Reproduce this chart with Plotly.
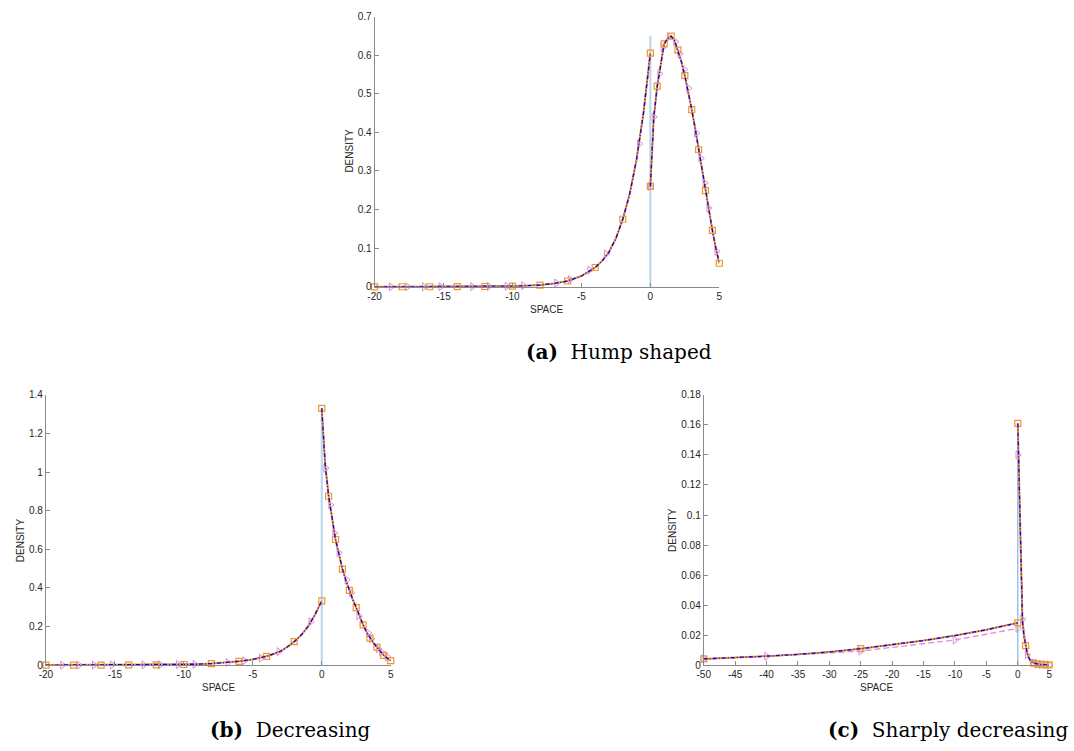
import plotly.graph_objects as go

W, H = 1074, 751

# ---------------- Panel (a): Hump shaped ----------------
a_left_x = [-20, -18, -16, -14, -12, -10, -9, -8, -7, -6, -5, -4, -3.5, -3, -2.5, -2, -1.5, -1, -0.5, 0]
a_left_y = [0.0000, 0.0001, 0.0002, 0.0004, 0.0008, 0.0018, 0.0028, 0.0045, 0.0085, 0.015, 0.028, 0.05,
            0.067, 0.09, 0.125, 0.175, 0.24, 0.33, 0.45, 0.605]
a_right_x = [0, 0.25, 0.5, 0.75, 1, 1.25, 1.5, 1.75, 2, 2.25, 2.5, 2.75, 3, 3.25, 3.5, 3.75, 4, 4.25, 4.5, 4.75, 5]
a_right_y = [0.26, 0.44, 0.52, 0.575, 0.629, 0.643, 0.649, 0.638, 0.613, 0.583, 0.547, 0.505, 0.459, 0.41,
             0.355, 0.303, 0.249, 0.196, 0.146, 0.1, 0.061]
a_orange_x = [-20, -18, -16, -14, -12, -10, -8, -6, -4, -2, 0, 0, 0.5, 1, 1.5, 2, 2.5, 3, 3.5, 4, 4.5, 5]
a_orange_y = [0.0, 0.0001, 0.0002, 0.0004, 0.0008, 0.0018, 0.0045, 0.015, 0.05, 0.175, 0.605,
              0.26, 0.52, 0.629, 0.649, 0.613, 0.547, 0.459, 0.355, 0.249, 0.146, 0.061]
a_pink_x = [-18.8, -17.6, -16.4, -15.2, -12.9, -11.7, -10.4, -9.2, -6.8, -5.8, -4.4, -3.2, -0.8,
            0.0, 0.26, 0.67, 0.91, 1.36, 1.82, 2.13, 2.46, 2.77, 3.33, 3.66, 3.95, 4.23, 4.81]
a_pink_y = [0.0001, 0.0001, 0.0002, 0.0003, 0.0006, 0.001, 0.0015, 0.003, 0.01, 0.019, 0.043, 0.085, 0.37,
            0.26, 0.44, 0.552, 0.62, 0.647, 0.635, 0.604, 0.563, 0.514, 0.398, 0.333, 0.269, 0.204, 0.092]
a_vline_top = 0.65
a_xticks = [-20, -15, -10, -5, 0, 5]
a_xtext = ["-20", "-15", "-10", "-5", "0", "5"]
a_yticks = [0, 0.1, 0.2, 0.3, 0.4, 0.5, 0.6, 0.7]
a_ytext = ["0", "0.1", "0.2", "0.3", "0.4", "0.5", "0.6", "0.7"]

# ---------------- Panel (b): Decreasing ----------------
b_left_x = [-20, -18, -16, -14, -12, -10, -9, -8, -7, -6, -5, -4, -3.5, -3, -2.5, -2, -1.5, -1, -0.5, 0]
b_left_y = [0.0003, 0.0005, 0.0008, 0.0012, 0.002, 0.0035, 0.005, 0.0085, 0.013, 0.02, 0.03, 0.046,
            0.058, 0.072, 0.094, 0.122, 0.155, 0.2, 0.26, 0.333]
b_right_x = [0, 0.1, 0.25, 0.5, 0.75, 1, 1.25, 1.5, 1.75, 2, 2.25, 2.5, 2.75, 3, 3.25, 3.5, 3.75, 4, 4.25,
             4.5, 4.75, 5]
b_right_y = [1.33, 1.2, 1.04, 0.875, 0.77, 0.65, 0.575, 0.498, 0.44, 0.388, 0.34, 0.298, 0.252, 0.209,
             0.172, 0.14, 0.115, 0.094, 0.072, 0.051, 0.036, 0.024]
b_orange_x = [-20, -18, -16, -14, -12, -10, -8, -6, -4, -2, 0, 0, 0.5, 1, 1.5, 2, 2.5, 3, 3.5, 4, 4.5, 5]
b_orange_y = [0.0003, 0.0005, 0.0008, 0.0012, 0.002, 0.0035, 0.0085, 0.02, 0.046, 0.122, 0.333,
              1.33, 0.875, 0.651, 0.498, 0.388, 0.298, 0.209, 0.14, 0.094, 0.051, 0.024]
b_pink_x = [-18.8, -17.6, -16.5, -15.2, -12.9, -11.7, -10.4, -9.2, -6.8, -5.6, -4.4, -3.1, -0.8,
            0.28, 0.64, 0.93, 1.24, 1.82, 2.15, 2.68, 3.37, 3.59, 4.09, 4.33, 4.76]
b_pink_y = [0.0004, 0.0005, 0.0007, 0.001, 0.0016, 0.0023, 0.0033, 0.0047, 0.014, 0.023, 0.037, 0.07, 0.225,
            1.02, 0.83, 0.685, 0.583, 0.442, 0.374, 0.255, 0.167, 0.136, 0.085, 0.068, 0.043]
b_vline_top = 1.33
b_xticks = [-20, -15, -10, -5, 0, 5]
b_xtext = ["-20", "-15", "-10", "-5", "0", "5"]
b_yticks = [0, 0.2, 0.4, 0.6, 0.8, 1.0, 1.2, 1.4]
b_ytext = ["0", "0.2", "0.4", "0.6", "0.8", "1", "1.2", "1.4"]

# ---------------- Panel (c): Sharply decreasing ----------------
c_left_x = [-50, -45, -40, -35, -30, -25, -20, -15, -10, -5, 0]
c_left_y = [0.0042, 0.005, 0.006, 0.0072, 0.0088, 0.011, 0.0136, 0.0164, 0.0197, 0.0236, 0.0282]
c_right_x = [0, 0.25, 0.5, 0.75, 1, 1.25, 1.5, 1.75, 2, 2.5, 3, 3.5, 4, 4.5, 5]
c_right_y = [0.161, 0.113, 0.068, 0.029, 0.019, 0.013, 0.008, 0.005, 0.003, 0.0015, 0.0008, 0.0005,
             0.0003, 0.0002, 0.0002]
c_orange_x = [-50, -25, 0, 0, 1.25, 2.5, 3.125, 3.75, 4.375, 5]
c_orange_y = [0.0042, 0.011, 0.0282, 0.161, 0.013, 0.0015, 0.0008, 0.0005, 0.0003, 0.0002]
c_pink_left_x = [-50, -40, -25, -10, 0]
c_pink_left_y = [0.0042, 0.0059, 0.0094, 0.0168, 0.0245]
c_pink_right_x = [0, 0.75, 1.5, 2.5, 3.1, 3.75, 4.4, 5]
c_pink_right_y = [0.14, 0.0306, 0.007, 0.0015, 0.0006, 0.0004, 0.0003, 0.0002]
c_vline_top = 0.16
c_xticks = [-50, -45, -40, -35, -30, -25, -20, -15, -10, -5, 0, 5]
c_xtext = ["-50", "-45", "-40", "-35", "-30", "-25", "-20", "-15", "-10", "-5", "0", "5"]
c_yticks = [0, 0.02, 0.04, 0.06, 0.08, 0.1, 0.12, 0.14, 0.16, 0.18]
c_ytext = ["0", "0.02", "0.04", "0.06", "0.08", "0.1", "0.12", "0.14", "0.16", "0.18"]

captions = ["<b>(a)</b>\u00a0\u00a0Hump shaped", "<b>(b)</b>\u00a0\u00a0Decreasing",
            "<b>(c)</b>\u00a0\u00a0Sharply decreasing"]

ORANGE = "#EE9630"
PINK = "#D98FD2"
BLUE = "#0000FF"

fig = go.Figure()


def add_panel(xa, ya, branches, pink_branches, ox, oy, pkx, pky, vtop, vcolor, vwidth):
    # vertical reference line at x = 0
    fig.add_trace(go.Scatter(x=[0, 0], y=[0, vtop], mode="lines", xaxis=xa, yaxis=ya,
                             line=dict(color=vcolor, width=vwidth), hoverinfo="skip"))
    for bx, by in branches:
        fig.add_trace(go.Scatter(x=bx, y=by, mode="lines", xaxis=xa, yaxis=ya,
                                 line=dict(color="black", width=1)))
    for bx, by in pink_branches:
        fig.add_trace(go.Scatter(x=bx, y=by, mode="lines", xaxis=xa, yaxis=ya,
                                 line=dict(color=PINK, width=1.3, dash="6px,3px")))
    for bx, by in branches:
        fig.add_trace(go.Scatter(x=bx, y=by, mode="lines", xaxis=xa, yaxis=ya,
                                 line=dict(color=ORANGE, width=2)))
    fig.add_trace(go.Scatter(x=pkx, y=pky, mode="markers", xaxis=xa, yaxis=ya, cliponaxis=False,
                             marker=dict(symbol="triangle-right-open", size=7,
                                         color=PINK, line=dict(width=1, color=PINK))))
    fig.add_trace(go.Scatter(x=ox, y=oy, mode="markers", xaxis=xa, yaxis=ya, cliponaxis=False,
                             marker=dict(symbol="square-open", size=6,
                                         color=ORANGE, line=dict(width=1.2, color=ORANGE))))
    for bx, by in branches:
        fig.add_trace(go.Scatter(x=bx, y=by, mode="lines", xaxis=xa, yaxis=ya,
                                 line=dict(color=BLUE, width=1.3, dash="4px,2px,1px,2px")))


add_panel("x", "y", [(a_left_x, a_left_y), (a_right_x, a_right_y)],
          [(a_left_x, a_left_y), (a_right_x, a_right_y)],
          a_orange_x, a_orange_y, a_pink_x, a_pink_y, a_vline_top, "#B8D6EE", 2)
add_panel("x2", "y2", [(b_left_x, b_left_y), (b_right_x, b_right_y)],
          [(b_left_x, b_left_y), (b_right_x, b_right_y)],
          b_orange_x, b_orange_y, b_pink_x, b_pink_y, b_vline_top, "#B8D6EE", 2)
add_panel("x3", "y3", [(c_left_x, c_left_y), (c_right_x, c_right_y)],
          [(c_pink_left_x, c_pink_left_y), (c_pink_right_x, c_pink_right_y)],
          c_orange_x, c_orange_y, c_pink_left_x + c_pink_right_x, c_pink_left_y + c_pink_right_y,
          c_vline_top, "#7DB9E2", 1.2)


def fx(px):
    return px / W


def fy(py):
    return 1 - py / H


axis_style = dict(showline=True, linecolor="#8a8a8a", linewidth=1, ticks="inside", ticklen=4,
                  tickcolor="#8a8a8a", tickwidth=1, showgrid=False, zeroline=False, mirror=False,
                  tickfont=dict(family="Liberation Sans, Arial, sans-serif", size=10, color="#262626"),
                  fixedrange=True)

fig.update_layout(
    width=W, height=H, margin=dict(l=0, r=0, t=0, b=0),
    plot_bgcolor="white", paper_bgcolor="white", showlegend=False,
    xaxis=dict(domain=[fx(371), fx(719)], anchor="y", range=[-20, 5],
               tickmode="array", tickvals=a_xticks, ticktext=a_xtext, **axis_style),
    yaxis=dict(domain=[fy(286), fy(11.7)], anchor="x", range=[0, 0.7],
               tickmode="array", tickvals=a_yticks, ticktext=a_ytext, **axis_style),
    xaxis2=dict(domain=[fx(39.3), fx(387.3)], anchor="y2", range=[-20, 5],
                tickmode="array", tickvals=b_xticks, ticktext=b_xtext, **axis_style),
    yaxis2=dict(domain=[fy(670), fy(395.7)], anchor="x2", range=[0, 1.4],
                tickmode="array", tickvals=b_yticks, ticktext=b_ytext, **axis_style),
    xaxis3=dict(domain=[fx(703.3), fx(1052)], anchor="y3", range=[-50, 5],
                tickmode="array", tickvals=c_xticks, ticktext=c_xtext, **axis_style),
    yaxis3=dict(domain=[fy(670), fy(395.7)], anchor="x3", range=[0, 0.18],
                tickmode="array", tickvals=c_yticks, ticktext=c_ytext, **axis_style),
)

label_font = dict(family="Liberation Sans, Arial, sans-serif", size=10, color="#262626")
cap_font = dict(family="DejaVu Serif, serif", size=20, color="black")
annots = [
    dict(text="SPACE", x=fx(545), y=fy(309), font=label_font),
    dict(text="DENSITY", x=fx(346), y=fy(148), font=label_font, textangle=-90),
    dict(text="SPACE", x=fx(213), y=fy(693), font=label_font),
    dict(text="DENSITY", x=fx(13.3), y=fy(543), font=label_font, textangle=-90),
    dict(text="SPACE", x=fx(877.5), y=fy(693), font=label_font),
    dict(text="DENSITY", x=fx(671), y=fy(533), font=label_font, textangle=-90),
    dict(text=captions[0], x=fx(618), y=fy(352), font=cap_font),
    dict(text=captions[1], x=fx(286.5), y=fy(736), font=cap_font),
    dict(text=captions[2], x=fx(950), y=fy(736), font=cap_font),
]
for a in annots:
    a.update(xref="paper", yref="paper", showarrow=False, xanchor="center", yanchor="middle")
fig.update_layout(annotations=annots)

fig.write_html("out.html")
